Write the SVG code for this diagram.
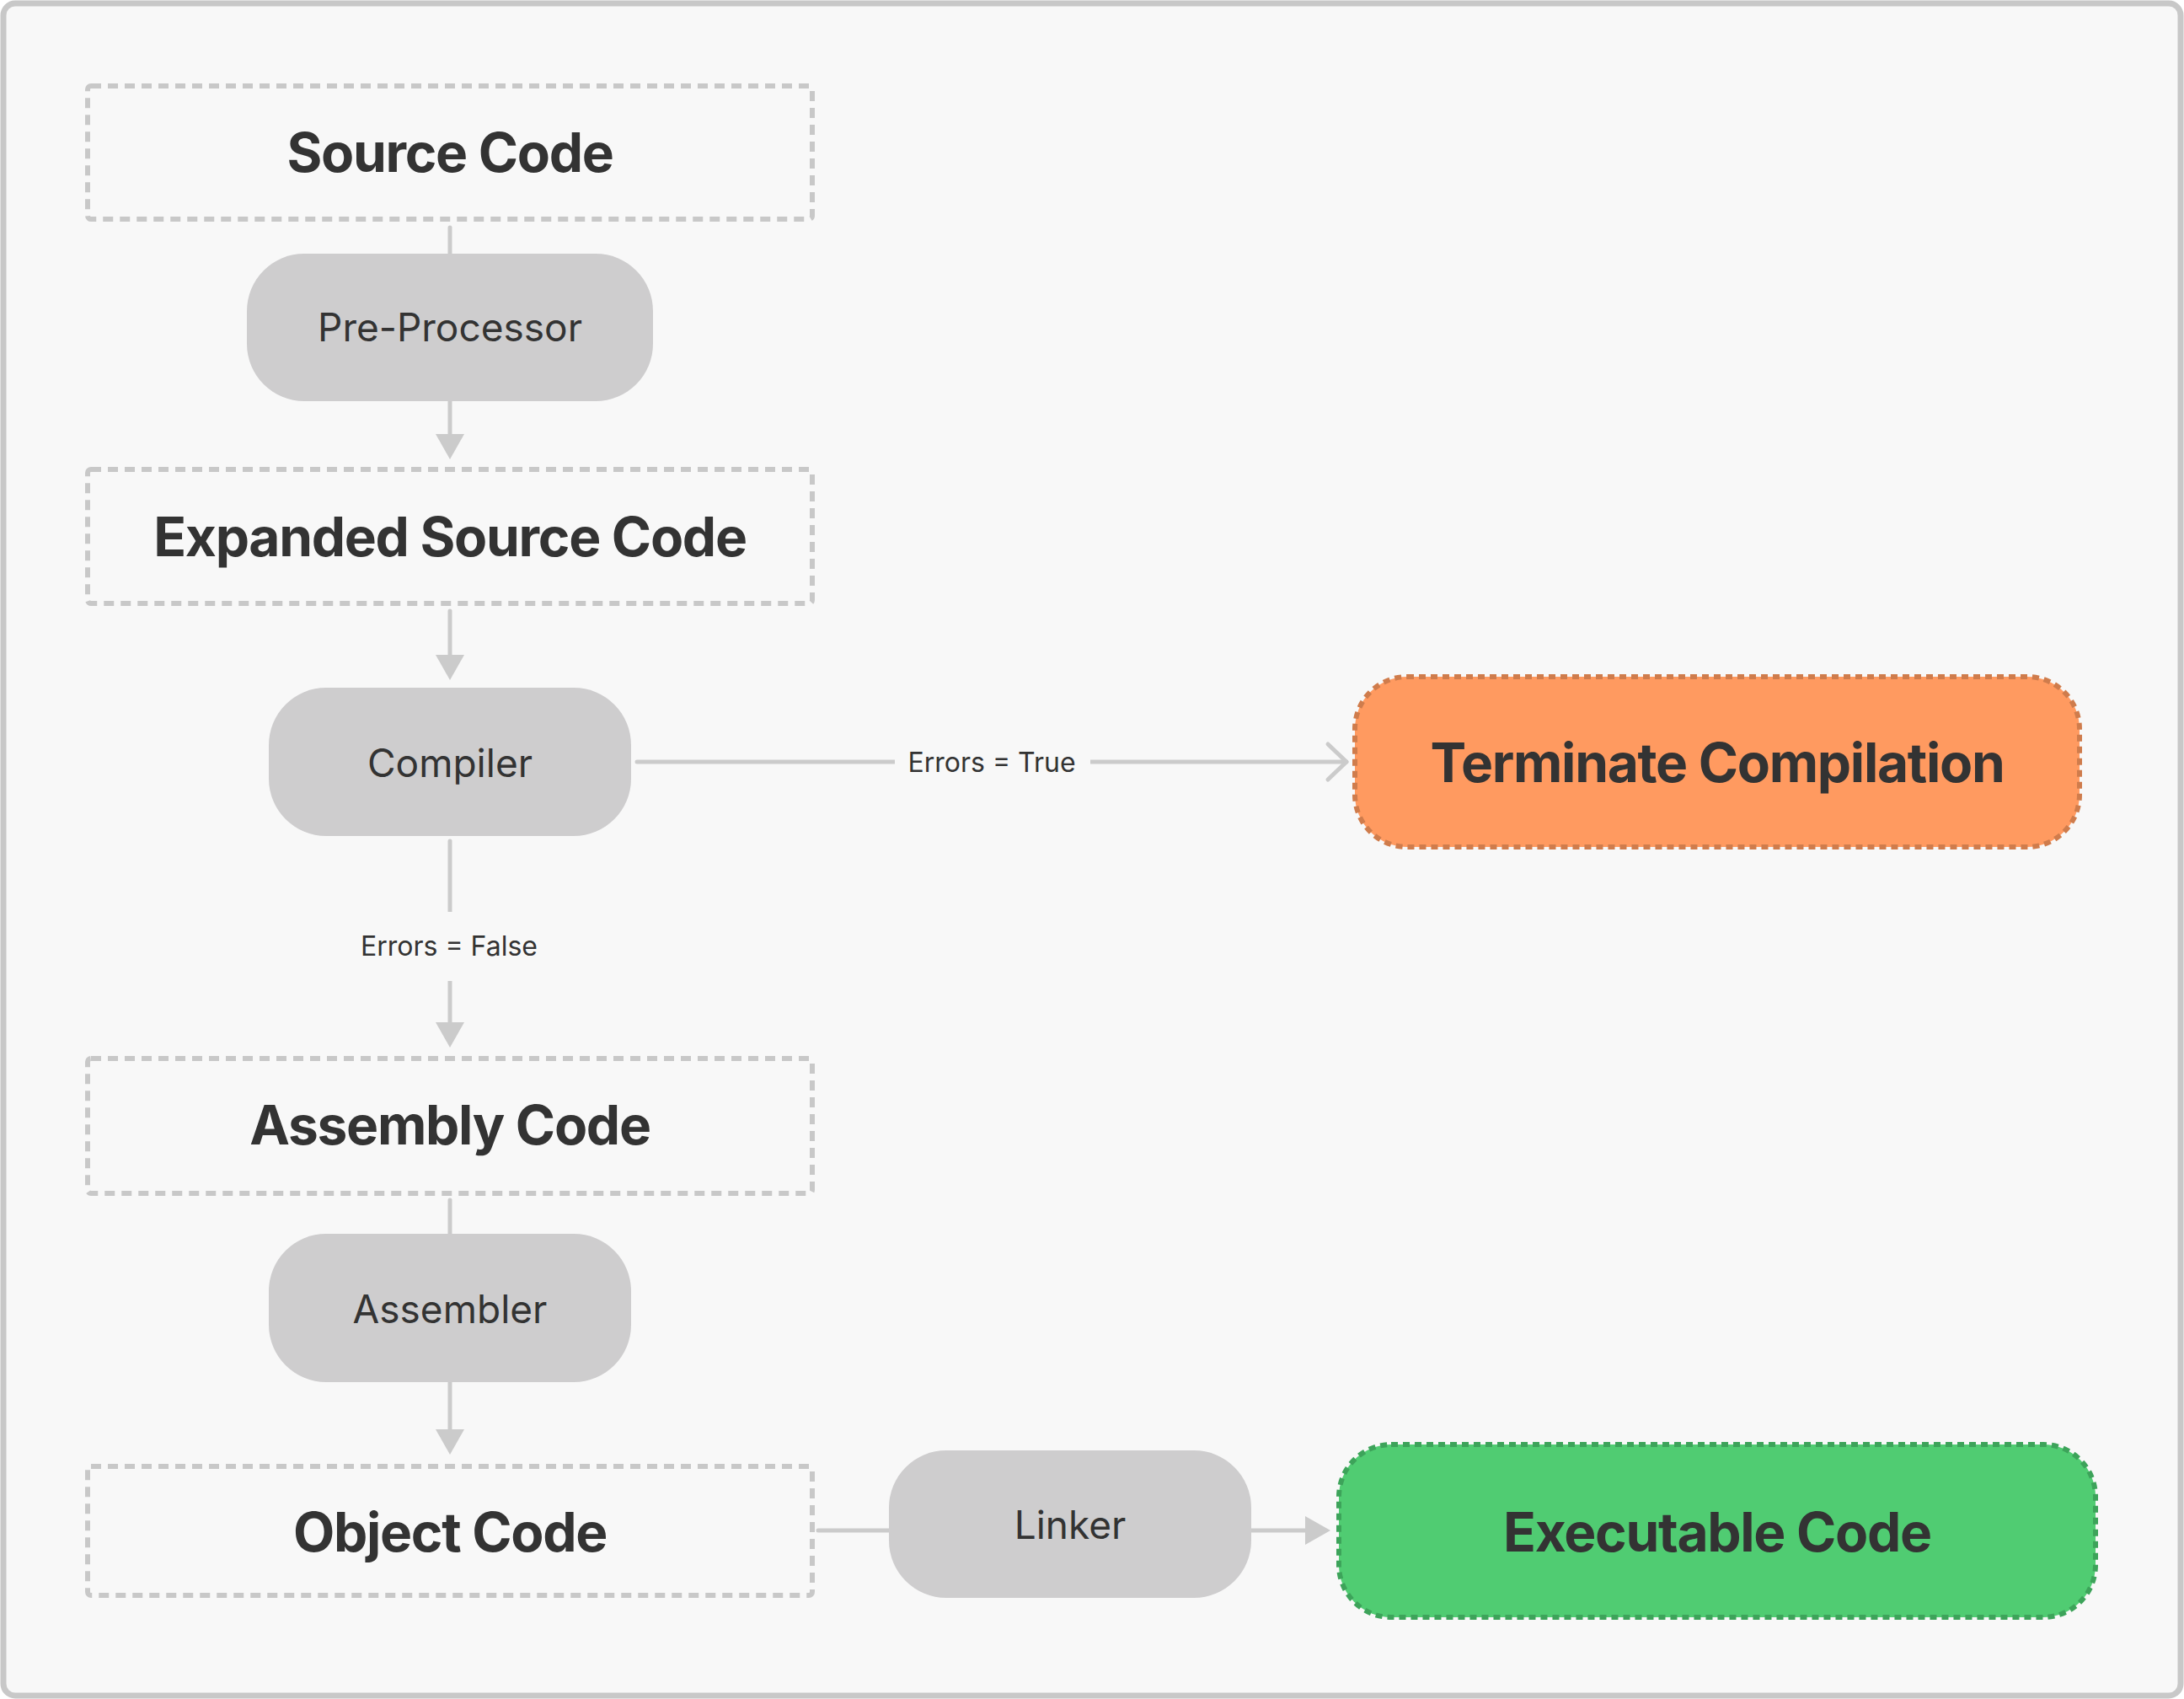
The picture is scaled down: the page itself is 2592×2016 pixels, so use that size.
<svg xmlns="http://www.w3.org/2000/svg" width="2592" height="2016" viewBox="0 0 2592 2016">
<defs>
<style>
.title{font-family:Inter,"Noto Sans","Liberation Sans",sans-serif;font-weight:700;font-size:64px;letter-spacing:-1.3px;fill:#333333;text-anchor:middle}
.pilltxt{font-family:Inter,"Noto Sans","Liberation Sans",sans-serif;font-weight:400;font-size:46px;fill:#333333;text-anchor:middle}
.lbl{font-family:Inter,"Noto Sans","Liberation Sans",sans-serif;font-weight:400;font-size:32px;fill:#333333;text-anchor:middle}
.box{fill:#f8f8f8;stroke:#c8c8c8;stroke-width:6;stroke-dasharray:12 8}
.pill{fill:#cecdce}
.edge{fill:none;stroke:#cbcbcb;stroke-width:5;stroke-linecap:round}
.lblbg{fill:#f8f8f8}
</style>
<marker id="tri" markerUnits="userSpaceOnUse" markerWidth="32" markerHeight="36" viewBox="0 -18 32 36" refX="0" refY="0" orient="auto">
<path d="M0,-17 L30,0 L0,17 Z" fill="#cbcbcb"/>
</marker>
<marker id="chev" markerUnits="userSpaceOnUse" markerWidth="32" markerHeight="52" viewBox="-28 -26 32 52" refX="0" refY="0" orient="auto">
<path d="M-22,-21 L0,0 L-22,21" fill="none" stroke="#cbcbcb" stroke-width="5" stroke-linecap="round" stroke-linejoin="round"/>
</marker>
</defs>
<rect x="4" y="4" width="2584" height="2008" rx="14" fill="#f8f8f8" stroke="#c8c8c8" stroke-width="7"/>
<g id="connectors">
<line class="edge" x1="534" y1="270" x2="534" y2="515" marker-end="url(#tri)"/>
<line class="edge" x1="534" y1="725" x2="534" y2="777" marker-end="url(#tri)"/>
<line class="edge" x1="756" y1="904" x2="1598" y2="904" marker-end="url(#chev)"/>
<rect class="lblbg" x="1062" y="880" width="232" height="48"/>
<text class="lbl" x="1177" y="916">Errors = True</text>
<line class="edge" x1="534" y1="998" x2="534" y2="1213" marker-end="url(#tri)"/>
<rect class="lblbg" x="420" y="1082" width="228" height="82"/>
<text class="lbl" x="533" y="1134">Errors = False</text>
<line class="edge" x1="534" y1="1424" x2="534" y2="1696" marker-end="url(#tri)"/>
<line class="edge" x1="971" y1="1816" x2="1549" y2="1816" marker-end="url(#tri)"/>
</g>
<g id="source-code">
<rect class="box" x="104" y="102" width="860" height="158" rx="4"/>
<text class="title" x="534" y="204">Source Code</text>
</g>
<g id="pre-processor">
<rect class="pill" x="293" y="301" width="482" height="175" rx="68"/>
<text class="pilltxt" x="534" y="405">Pre-Processor</text>
</g>
<g id="expanded-source-code">
<rect class="box" x="104" y="557" width="860" height="159" rx="4"/>
<text class="title" x="534" y="660">Expanded Source Code</text>
</g>
<g id="compiler">
<rect class="pill" x="319" y="816" width="430" height="176" rx="68"/>
<text class="pilltxt" x="534" y="922">Compiler</text>
</g>
<g id="terminate-compilation">
<rect x="1608" y="803" width="860" height="202" rx="62" fill="#ff9a60" stroke="#cf7c4c" stroke-width="6" stroke-dasharray="8 6"/>
<text class="title" x="2038" y="928">Terminate Compilation</text>
</g>
<g id="assembly-code">
<rect class="box" x="104" y="1256" width="860" height="160" rx="4"/>
<text class="title" x="534" y="1358">Assembly Code</text>
</g>
<g id="assembler">
<rect class="pill" x="319" y="1464" width="430" height="176" rx="68"/>
<text class="pilltxt" x="534" y="1570">Assembler</text>
</g>
<g id="object-code">
<rect class="box" x="104" y="1740" width="860" height="153" rx="4"/>
<text class="title" x="534" y="1841">Object Code</text>
</g>
<g id="linker">
<rect class="pill" x="1055" y="1721" width="430" height="175" rx="68"/>
<text class="pilltxt" x="1270" y="1826">Linker</text>
</g>
<g id="executable-code">
<rect x="1589" y="1714" width="898" height="205" rx="62" fill="#50cc72" stroke="#3da35a" stroke-width="6" stroke-dasharray="8 6"/>
<text class="title" x="2038" y="1841">Executable Code</text>
</g>
</svg>
